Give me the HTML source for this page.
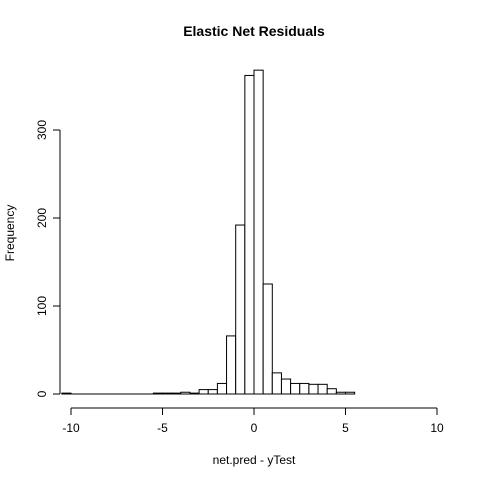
<!DOCTYPE html>
<html><head><meta charset="utf-8"><style>body{margin:0;background:#fff}svg{display:block;font-family:"Liberation Sans",sans-serif}</style></head>
<body>
<svg id="c" width="480" height="480">
<text x="254" y="36" text-anchor="middle" font-weight="bold" font-size="14">Elastic Net Residuals</text>
<text x="254" y="464" text-anchor="middle" font-size="12">net.pred - yTest</text>
<text transform="translate(14,233) rotate(-90)" text-anchor="middle" font-size="12">Frequency</text>
<g id="bars"></g><g id="axes"></g>
</svg>
<script>
const binStarts=[-10.5,-10,-9.5,-9,-8.5,-8,-7.5,-7,-6.5,-6,-5.5,-5,-4.5,-4,-3.5,-3,-2.5,-2,-1.5,-1,-0.5,0,0.5,1,1.5,2,2.5,3,3.5,4,4.5,5];
const counts=[1,0,0,0,0,0,0,0,0,0,1,1,1,2,1,5,5,12,66,192,362,368,125,24,17,12,12,11,11,6,2,2];
const binWidth=0.5;
const xTicks=[-10,-5,0,5,10];
const yTicks=[0,100,200,300];
const X=v=>254+(v)*18.3;
const Y=v=>394-v*0.88;
const ns="http://www.w3.org/2000/svg";
const bars=document.getElementById('bars'),axes=document.getElementById('axes');
function mk(t,a,p){const e=document.createElementNS(ns,t);for(const k in a)e.setAttribute(k,a[k]);p.appendChild(e);return e;}
const base=mk('line',{x1:X(binStarts[0]),x2:X(binStarts[binStarts.length-1]+binWidth),y1:Y(0),y2:Y(0),stroke:'#000'},bars);


binStarts.forEach((s,i)=>{
 const r=mk('rect',{x:X(s),y:Y(counts[i]),width:X(s+binWidth)-X(s),height:Y(0)-Y(counts[i]),fill:'#fff',stroke:'#000','stroke-width':1},bars);
 
 
});
mk('line',{x1:X(xTicks[0]),x2:X(xTicks[xTicks.length-1]),y1:408,y2:408,stroke:'#000'},axes);
xTicks.forEach(t=>{mk('line',{x1:X(t),x2:X(t),y1:408,y2:415,stroke:'#000'},axes);
 const tx=mk('text',{x:X(t),y:432,'text-anchor':'middle','font-size':12},axes);tx.textContent=t;
 
 });
mk('line',{x1:60,x2:60,y1:Y(yTicks[0]),y2:Y(yTicks[yTicks.length-1]),stroke:'#000'},axes);
yTicks.forEach(t=>{mk('line',{x1:53,x2:60,y1:Y(t),y2:Y(t),stroke:'#000'},axes);
 const tx=mk('text',{transform:`translate(46,${Y(t)}) rotate(-90)`,'text-anchor':'middle','font-size':12},axes);tx.textContent=t;
 
 });
</script>
</body></html>
